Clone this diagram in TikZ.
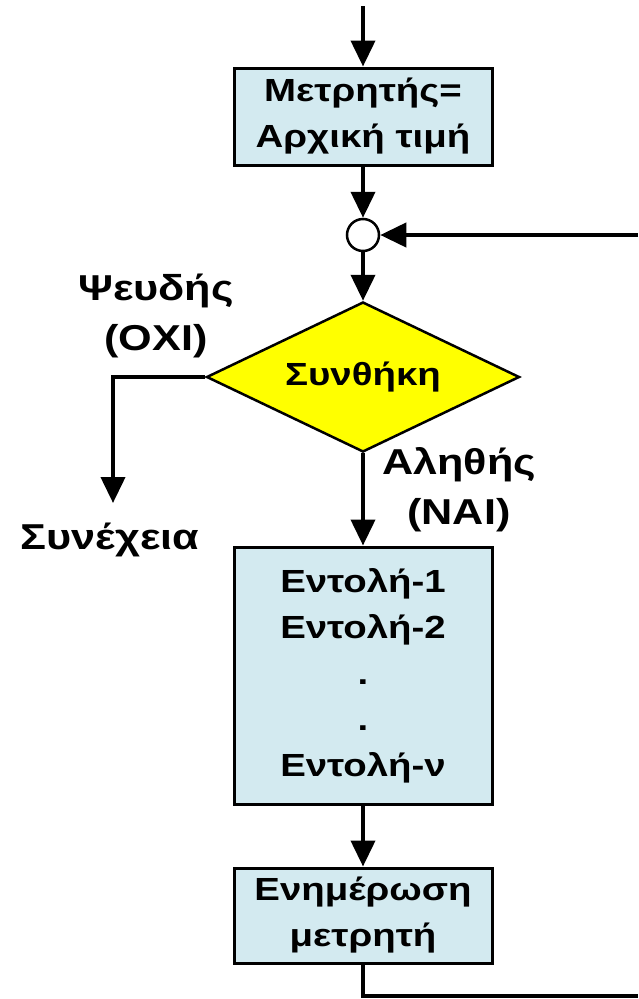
\documentclass[tikz,border=0pt]{standalone}
\usepackage{fontspec}
\setmainfont[FakeStretch=1.2]{Liberation Sans}
\usetikzlibrary{arrows.meta, shapes.geometric, positioning}
\definecolor{paleblue}{HTML}{D3EAF0}
\definecolor{lemon}{HTML}{FFFF00}

\begin{document}
\begin{tikzpicture}[x=1pt,y=-1pt,
  every node/.style={font=\fontsize{32}{46}\selectfont\bfseries},
  procbox/.style={draw,line width=3pt,fill=paleblue,minimum width=258pt,
                  align=center,inner sep=0pt},
  tag/.style={align=center,font=\fontsize{36}{50}\selectfont\bfseries},
  flow/.style={line width=4pt,-{Triangle[length=26pt,width=24pt]}},
  link/.style={line width=4pt}]
  \useasboundingbox (0,0) rectangle (638,999);
  % Boxes and decision (pixel coordinates, y downwards)
  \coordinate (start) at (363,6);
  \node[procbox,minimum height=97pt] (init) at (363,116.5) {Μετρητής=\\Αρχική τιμή};
  \node[circle,draw,line width=2.5pt,fill=white,minimum size=32pt,inner sep=0pt]
    (join) at (363,235) {};
  \node[diamond,aspect=2.09,draw,line width=2.5pt,fill=lemon,minimum width=313pt,
        minimum height=150pt,inner sep=0pt] (cond) at (363,377) {Συνθήκη};
  \node[procbox,minimum height=257pt] (body) at (363,675.5)
    {Εντολή-1\\Εντολή-2\\.\\.\\Εντολή-ν};
  \node[procbox,minimum height=95pt] (upd) at (363,915.5) {Ενημέρωση\\μετρητή};
  % Labels
  \node[tag] (nolbl) at (156,316) {Ψευδής\\(ΟΧΙ)};
  \node[tag] (yeslbl) at (459,490) {Αληθής\\(ΝΑΙ)};
  \node[tag] (next) at (110,540) {Συνέχεια};
  % Loop ends
  \coordinate (bend) at (113,377);
  \coordinate (out) at (113,503);
  \coordinate (back) at (638,235);
  \coordinate (low) at (363,996);
  \coordinate (lowr) at (638,996);
  % Connectors
  \draw[flow] (start) -- (init);
  \draw[flow] (init) -- (join);
  \draw[flow] (join) -- (cond);
  \draw[flow] (back) -- (join);
  \draw[flow] (cond.west) -- (bend) -- (out);
  \draw[flow] (cond) -- (body);
  \draw[flow] (body) -- (upd);
  \draw[link] (upd.south) -- (low) -- (lowr);
\end{tikzpicture}
\end{document}
